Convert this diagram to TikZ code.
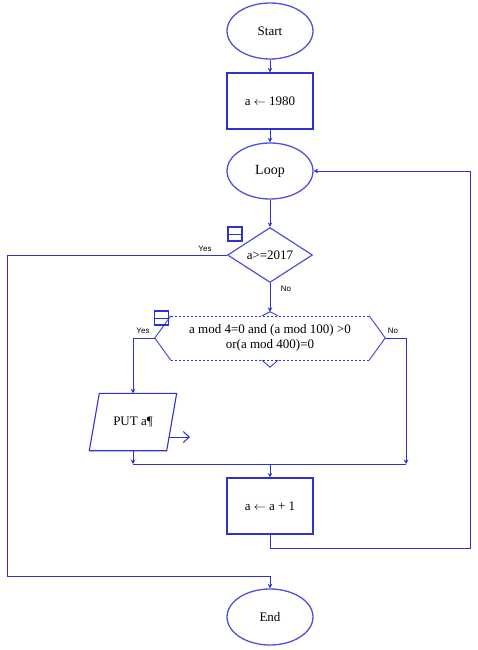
\documentclass[tikz,border=0pt]{standalone}
\usepackage{fontspec}
\setmainfont{Liberation Serif}
\newfontfamily\lblfont{Liberation Sans}
\usetikzlibrary{shapes.geometric,arrows.meta}
\definecolor{fc}{RGB}{48,48,215}
\begin{document}
\begin{tikzpicture}[x=1pt,y=-1pt,
  every node/.style={font=\fontsize{13}{15}\selectfont},
  ln/.style={draw=fc,line width=1pt},
  arr/.style={ln,-{Stealth[length=4.5pt,width=4.5pt]}},
  term/.style={ellipse,draw=fc!85,line width=1.3pt,minimum width=86pt,minimum height=56pt,inner sep=0pt},
  proc/.style={rectangle,draw=fc,line width=1.2pt,minimum width=86pt,minimum height=56pt,inner sep=0pt},
  lbl/.style={font=\lblfont\fontsize{8}{9}\selectfont,inner sep=0pt},
  icon/.style={rectangle,draw=fc,line width=1.1pt,minimum width=14pt,minimum height=14pt,inner sep=0pt}
]
\useasboundingbox (0,0) rectangle (477,650);
% nodes
\node[term] (start) at (270,31) {Start};
\node[proc] (init) at (270,101) {a $\leftarrow$ 1980};
\node[term,font=\fontsize{14}{16}\selectfont] (loop) at (270,171) {Loop};
\node[diamond,draw=fc!85,line width=1.2pt,minimum width=85pt,minimum height=55pt,inner sep=0pt,aspect=1.5] (cond1) at (270,255) {a>=2017};
\node[rectangle,minimum width=198pt,minimum height=44pt,inner sep=0pt,align=center] (cond2) at (270,338) {a mod 4=0 and (a mod 100) >0\\or(a mod 400)=0};
\node[rectangle,minimum width=77pt,minimum height=57pt,inner sep=0pt] (put) at (133,422) {PUT a¶};
\node[proc] (inc) at (270,506) {a $\leftarrow$ a + 1};
\node[term] (end) at (270,617) {End};
% hexagon outline
\coordinate (c2w) at ([xshift=-16pt]cond2.west);
\coordinate (c2e) at ([xshift=16pt]cond2.east);
\coordinate (c2top) at ([yshift=4pt]cond2.north);
\draw[ln,draw=fc!85] (cond2.north west) -- (c2w) -- (cond2.south west);
\draw[ln,draw=fc!85] (cond2.north east) -- (c2e) -- (cond2.south east);
\draw[draw=fc,line width=0.6pt,dash pattern=on 2pt off 2pt] (cond2.north west) -- (cond2.north east);
\draw[draw=fc,line width=0.6pt,dash pattern=on 2pt off 2pt] (cond2.south west) -- (cond2.south east);
\draw[draw=fc,line width=0.8pt] ([xshift=-8pt]cond2.north) -- (c2top) -- ([xshift=8pt]cond2.north);
\draw[draw=fc,line width=0.8pt] ([xshift=-8pt]cond2.south) -- ([yshift=-7pt]cond2.south) -- ([xshift=8pt]cond2.south);
% parallelogram outline
\draw[ln,line width=1.1pt] ([xshift=5pt]put.north west) -- ([xshift=5pt]put.north east) -- ([xshift=-5pt]put.south east) -- ([xshift=-5pt]put.south west) -- cycle;
\coordinate (pa) at (169,437);
\coordinate (pb) at (190,437);
\draw[ln,-{Straight Barb[length=6pt,width=11pt]}] (pa) -- (pb);
% icons
\node[icon] (ic1) at (235,234) {};
\draw[ln] (ic1.west) -- (ic1.east);
\node[icon] (ic2) at (161.5,318) {};
\draw[ln] (ic2.west) -- (ic2.east);
% labels
\node[lbl] (yes1) at (205,249) {Yes};
\node[lbl] (no1) at (286,289) {No};
\node[lbl] (yes2) at (143,331) {Yes};
\node[lbl] (no2) at (393,331) {No};
% connectors
\coordinate (ya) at (7,255);
\coordinate (yb) at (7,576);
\coordinate (nb) at (406,464);
\coordinate (ml) at (133,464);
\coordinate (rb) at (470,548);
\draw[arr] (start) -- (init);
\draw[arr] (init) -- (loop);
\draw[arr] (loop) -- (cond1);
\draw[arr] (cond1.west) -- (ya) -- (yb) -| (end.north);
\draw[arr] (cond1.south) -- (c2top);
\draw[arr] (c2w) -| (put.north);
\draw[arr] (c2e) -| (nb);
\draw[arr] (put.south) -- (ml);
\draw[ln] (ml) -- (nb);
\draw[arr] (inc.north |- ml) -- (inc.north);
\draw[arr] (inc.south) |- (rb) |- (loop.east);
\end{tikzpicture}
\end{document}
